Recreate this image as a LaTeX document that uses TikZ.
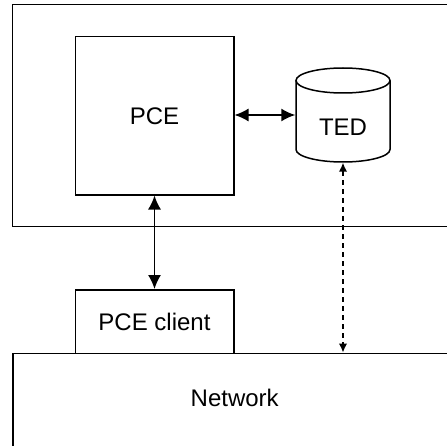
\documentclass[tikz,border=0pt]{standalone}
\usepackage{fontspec}
\setmainfont{Liberation Sans}
\usetikzlibrary{arrows.meta}
\begin{document}
\begin{tikzpicture}[x=1pt,y=1pt,
  line width=1.5pt,
  box/.style={draw, line width=1.5pt, rectangle, inner sep=0pt, anchor=north west},
  lbl/.style={font=\fontsize{24}{28}\selectfont},
  bigarrow/.style={arrows={Latex[length=14pt,width=13pt,fill=black]-Latex[length=14pt,width=13pt,fill=black]}},
  smallarrow/.style={arrows={Latex[length=9pt,width=8.5pt,fill=black]-Latex[length=9pt,width=8.5pt,fill=black]}},
  dashline/.style={dash pattern=on 5pt off 4pt}]
\useasboundingbox (0,0) rectangle (446,-446);

% server area enclosing the PCE and the TED
\node[box, minimum width=460pt, minimum height=221.5pt] (server) at (11.5,-4) {};

% path computation element
\node[box, minimum width=158.5pt, minimum height=158pt] (pce) at (74.5,-36) {};
\node[lbl] at (pce.center) {PCE};

% traffic engineering database (cylinder)
\node[minimum width=94pt, minimum height=94pt, inner sep=0pt] (ted) at (343,-115) {};
\draw[fill=white] (296,-80.5) -- (296,-149.5) arc (180:360:47 and 12.5) -- (390,-80.5);
\draw[fill=white] (343,-80.5) ellipse (47 and 12.5);
\node[lbl] (tedlabel) at (343,-127) {TED};

% client
\node[box, minimum width=158.5pt, minimum height=63.5pt] (client) at (74.5,-289) {};
\node[lbl] at (client.center) {PCE client};

% network
\node[box, minimum width=460pt, minimum height=120pt] (network) at (12,-352.5) {};
\node[lbl] (netlabel) at (234.7,-398) {Network};

% connectors
\draw[bigarrow] (pce.east |- ted.west) -- (ted.west);
\draw[bigarrow] (pce.south) -- (client.north);
\draw[smallarrow, dashline] (ted.south) -- (ted.south |- network.north);
\end{tikzpicture}
\end{document}
